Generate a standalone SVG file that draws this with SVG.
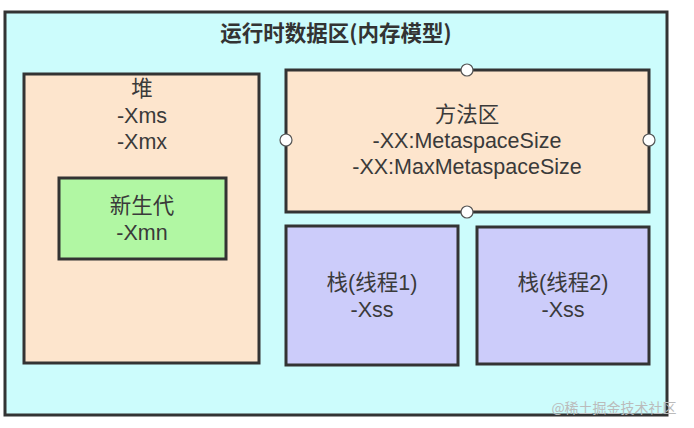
<svg xmlns="http://www.w3.org/2000/svg" width="694" height="428" viewBox="0 0 694 428">
<style>
.box{stroke:#333;stroke-width:3}
.t{font-family:"Liberation Sans","Noto Sans CJK SC",sans-serif;font-size:21.5px;fill:#3a3a3a;text-anchor:middle;dominant-baseline:central}
.title{font-family:"Noto Sans CJK SC",sans-serif;font-size:21.5px;font-weight:bold;fill:#333;text-anchor:middle;dominant-baseline:central}
.h{fill:#fff;stroke:#555;stroke-width:1.2}
</style>
<rect width="694" height="428" fill="#fff"/>
<g id="runtime-area">
<rect class="box" x="5" y="12" width="662" height="403" fill="#ccfcfc"/>
<text class="title" x="336" y="31">运行时数据区(内存模型)</text>
</g>
<g id="heap">
<rect class="box" x="24" y="74" width="235" height="289" fill="#fde5cd"/>
<text class="t" x="142" y="89">堆</text>
<text class="t" x="142" y="116">-Xms</text>
<text class="t" x="142" y="142">-Xmx</text>
</g>
<g id="young-gen">
<rect class="box" x="59" y="178" width="167" height="81" fill="#b1f7a3"/>
<text class="t" x="142" y="206">新生代</text>
<text class="t" x="142" y="233">-Xmn</text>
</g>
<g id="method-area">
<rect class="box" x="286" y="70" width="363" height="142" fill="#fde5cd"/>
<text class="t" x="467" y="115">方法区</text>
<text class="t" x="467" y="141">-XX:MetaspaceSize</text>
<text class="t" x="467" y="167">-XX:MaxMetaspaceSize</text>
<circle class="h" cx="467" cy="70" r="6"/>
<circle class="h" cx="286" cy="140" r="6"/>
<circle class="h" cx="649" cy="140" r="6"/>
<circle class="h" cx="467" cy="212" r="6"/>
</g>
<g id="stack1">
<rect class="box" x="286" y="226" width="172" height="139" fill="#ccccfa"/>
<text class="t" x="372" y="283">栈(线程1)</text>
<text class="t" x="372" y="310">-Xss</text>
</g>
<g id="stack2">
<rect class="box" x="477" y="227" width="172" height="137" fill="#ccccfa"/>
<text class="t" x="563" y="283">栈(线程2)</text>
<text class="t" x="563" y="310">-Xss</text>
</g>
<g id="connectors"></g>
<text x="614" y="407" font-family="Noto Sans CJK SC,sans-serif" font-size="14" fill="#bbb" text-anchor="middle" dominant-baseline="central">@稀土掘金技术社区</text>
</svg>
